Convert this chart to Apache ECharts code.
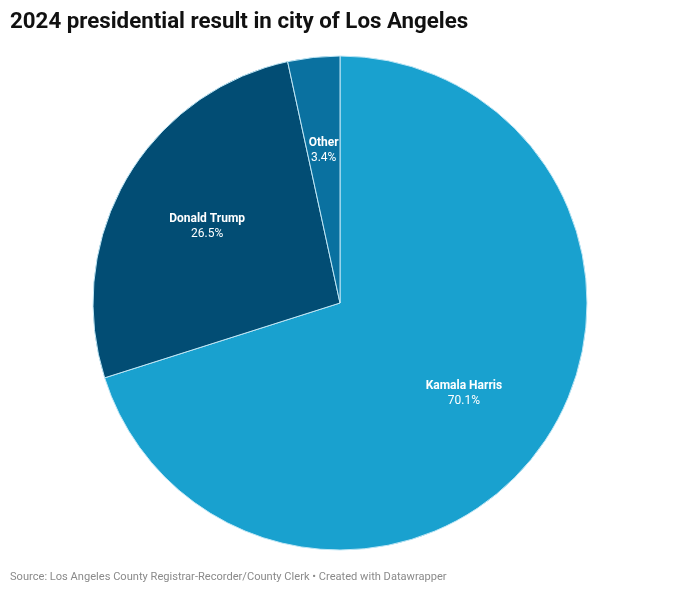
<!DOCTYPE html>
<html lang="en">
<head>
    <meta charset="UTF-8">
    <title>2024 presidential result in city of Los Angeles</title>
    <script src="https://cdn.jsdelivr.net/npm/echarts@6/dist/echarts.min.js"></script>
    <style>
        body { margin: 0; background: #fff; }
    </style>
</head>
<body>
    <div id="main" style="width: 680px;height:595px;"></div>
    <script type="text/javascript">
      // candidates, vote share (%) and slice colours, clockwise from 12 o'clock
      var candidates = ['Kamala Harris', 'Donald Trump', 'Other'];
      var shares = [70.1, 26.5, 3.4];
      var colors = ['#19a1cf', '#024d74', '#0a71a0'];

      var pieData = candidates.map(function (name, i) {
        return { name: name, value: shares[i], itemStyle: { color: colors[i] } };
      });

      var myChart = echarts.init(document.getElementById('main'));

      var option = {
        animation: false,
        title: [
          {
            text: '2024 presidential result in city of Los Angeles',
            left: 10, top: 11, padding: 0,
            textStyle: { fontFamily: 'Roboto', fontSize: 22.3, fontWeight: 'bold', color: '#111' }
          },
          {
            text: 'Source: Los Angeles County Registrar-Recorder/County Clerk • Created with Datawrapper',
            left: 10, top: 572, padding: 0,
            textStyle: { fontFamily: 'Roboto', fontSize: 11.1, fontWeight: 'normal', color: '#8a8a8a' }
          }
        ],
        series: [
          {
            // the visible slices
            type: 'pie',
            center: [340, 303],
            radius: [0, 247],
            startAngle: 90,
            clockwise: true,
            label: { show: false },
            labelLine: { show: false },
            itemStyle: { borderColor: '#bfe6f5', borderWidth: 1 },
            emphasis: { disabled: true },
            data: pieData
          },
          {
            // invisible ring, only used to put the labels a bit further out
            type: 'pie',
            center: [340, 303],
            radius: [54, 247],
            startAngle: 90,
            clockwise: true,
            silent: true,
            itemStyle: { color: 'transparent' },
            label: {
              show: true,
              position: 'inside',
              formatter: function (p) {
                return '{b|' + p.name + '}\n{v|' + p.value.toFixed(1) + '%}';
              },
              rich: {
                b: { fontFamily: 'Roboto', fontSize: 12, fontWeight: 'bold', color: '#fff', lineHeight: 15 },
                v: { fontFamily: 'Roboto', fontSize: 12, color: '#fff', lineHeight: 15 }
              }
            },
            labelLine: { show: false },
            data: candidates.map(function (name, i) {
              return { name: name, value: shares[i] };
            })
          }
        ]
      };

      myChart.setOption(option);
    </script>
</body>
</html>
